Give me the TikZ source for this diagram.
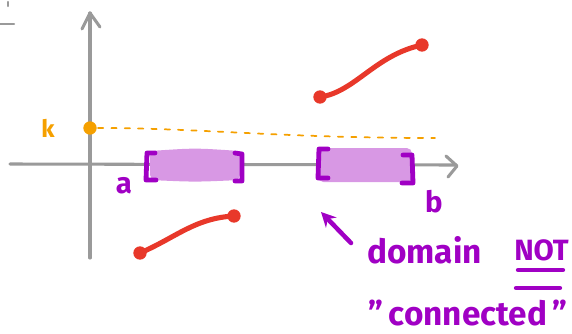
\documentclass[tikz,border=0pt]{standalone}
\usepackage{fontspec}
\setmainfont{Fira Sans}
\usetikzlibrary{arrows.meta}
\definecolor{axisgray}{HTML}{9A9A9A}
\definecolor{hlpurple}{HTML}{D898E4}
\definecolor{inkpurple}{HTML}{A000C4}
\definecolor{inkred}{HTML}{E8382A}
\definecolor{inkorange}{HTML}{F5A000}
\tikzset{
  axis/.style={draw=axisgray, line width=2.3pt},
  hl/.style={fill=hlpurple, rounded corners=4pt},
  bracket/.style={draw=inkpurple, line width=3.6pt},
  graphline/.style={draw=inkred, line width=3.8pt},
  enddot/.style={fill=inkred},
  guide/.style={draw=inkorange, line width=1.3pt, dash pattern=on 4pt off 6pt},
  purpletext/.style={text=inkpurple, font=\bfseries\fontsize{22}{24}\selectfont, inner sep=0pt},
  bigtext/.style={purpletext, font=\bfseries\fontsize{25}{27}\selectfont},
  ortext/.style={text=inkorange, font=\bfseries\fontsize{18}{20}\selectfont, inner sep=0pt},
  underl/.style={draw=inkpurple, line width=3.2pt}
}
\begin{document}
\begin{tikzpicture}[x=0.75pt,y=-0.75pt, line cap=round, line join=round]
\useasboundingbox (0,0) rectangle (572,333);
% stray marks
\draw[axis, line width=1.6pt] (0,24) -- (14,24);
\draw[axis, line width=1.6pt] (8,2) -- (8,6);
% axes
\draw[axis] (90,258) -- (90,13);
\draw[axis] (82,29) -- (90,13) -- (100,27);
\draw[axis] (10,164) -- (456,165);
\draw[axis] (446,156) -- (457,166) -- (448,177);
% orange guide
\coordinate (kdot) at (90,128);
\coordinate (guideEnd) at (435,138);
\draw[guide] (kdot) ++(8,0) .. controls (200,128) and (280,138) .. (guideEnd);
\fill[inkorange] (kdot) circle (5pt);
\node[ortext] (k) at (48,128) {k};
% highlights
\fill[hl] (150,151) .. controls (195,148) .. (240,151) -- (240,180) .. controls (195,182) .. (150,180) -- cycle;
\fill[hl] (318,148) rectangle (412,182);
% brackets
\draw[bracket] (155,153) -- (147,153) -- (146,180) -- (156,180);
\draw[bracket] (235,153) -- (242,154) -- (242,181) -- (235,181);
\draw[bracket] (328,149) -- (319,149) -- (318,178) -- (328,178);
\draw[bracket] (403,155) -- (412,155) -- (413,183) -- (402,183);
\node[purpletext] (a) at (124,186) {a};
\node[purpletext] (b) at (434,202) {b};
% red pieces
\coordinate (p1) at (140,253);
\coordinate (p2) at (234,216);
\coordinate (q1) at (320,97);
\coordinate (q2) at (422,45);
\draw[graphline] (p1) .. controls (175,238) and (195,218) .. (p2);
\draw[graphline] (q1) .. controls (355,92) and (375,55) .. (q2);
\fill[enddot] (p1) circle (5pt);
\fill[enddot] (p2) circle (5pt);
\fill[enddot] (q1) circle (5pt);
\fill[enddot] (q2) circle (5pt);
% annotation
\coordinate (arrTail) at (351,243);
\coordinate (arrHead) at (321,212);
\draw[draw=inkpurple, line width=3.4pt, -{Stealth[length=11pt,width=11pt]}] (arrTail) -- (arrHead);
\node[bigtext, anchor=west] (domain) at (367,250) {domain};
\node[purpletext, anchor=west] (notw) at (514,250) {NOT};
\draw[underl] (518,270) -- (563,270);
\draw[underl] (516,288) -- (560,288);
\node[bigtext, anchor=west] (conn) at (368,313) {"\,connected\,"};
\end{tikzpicture}
\end{document}
